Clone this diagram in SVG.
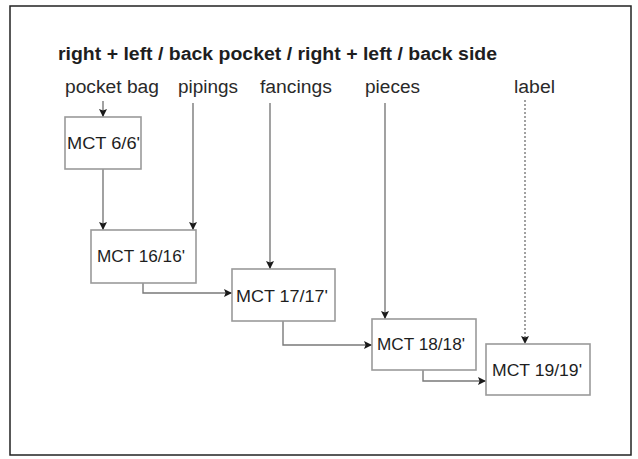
<svg xmlns="http://www.w3.org/2000/svg" width="638" height="459" viewBox="0 0 638 459">
<defs>
<marker id="ah" viewBox="0 0 10 10" refX="10" refY="5" markerWidth="10" markerHeight="8" markerUnits="userSpaceOnUse" orient="auto">
<path d="M0,0 L10,5 L0,10 L2,5 Z" fill="#1a1a1a"/>
</marker>
</defs>
<style>
.frame{fill:#fff;stroke:#222;stroke-width:1.5}
.box{fill:#fff;stroke:#9a9a9a;stroke-width:1.6}
.nt{font-family:"Liberation Sans",Arial,sans-serif;font-size:16px;fill:#1e1e1e}
.lb{font-family:"Liberation Sans",Arial,sans-serif;font-size:18px;fill:#2a2a2a}
.tt{font-family:"Liberation Sans",Arial,sans-serif;font-size:18px;font-weight:bold;fill:#1e1e1e}
.c{fill:none;stroke:#7a7a7a;stroke-width:1.4;marker-end:url(#ah)}
.d{stroke-dasharray:2 2}
</style>
<rect x="0" y="0" width="638" height="459" fill="#fff"/>
<rect class="frame" x="10" y="6" width="621" height="449"/>
<text class="tt" x="58" y="60" textLength="439" lengthAdjust="spacingAndGlyphs">right + left / back pocket / right + left / back side</text>
<g id="labels">
<text class="lb" x="65" y="93" textLength="94" lengthAdjust="spacingAndGlyphs">pocket bag</text>
<text class="lb" x="178" y="93" textLength="60" lengthAdjust="spacingAndGlyphs">pipings</text>
<text class="lb" x="260" y="93" textLength="72" lengthAdjust="spacingAndGlyphs">fancings</text>
<text class="lb" x="365" y="93" textLength="55" lengthAdjust="spacingAndGlyphs">pieces</text>
<text class="lb" x="514" y="93" textLength="41" lengthAdjust="spacingAndGlyphs">label</text>
</g>
<g id="connectors">
<path class="c" d="M103,101 V117"/>
<path class="c" d="M103,169 V230"/>
<path class="c" d="M193,103 V230"/>
<path class="c" d="M143,283 V293 H232"/>
<path class="c" d="M270,103 V269"/>
<path class="c" d="M283,321 V345 H372"/>
<path class="c" d="M385,103 V319"/>
<path class="c" d="M423,370 V381 H486"/>
<path class="c d" d="M525,100 V344"/>
</g>
<g id="mct6">
<rect class="box" x="65" y="117" width="76" height="52"/>
<text class="nt" x="67" y="149" textLength="73" lengthAdjust="spacingAndGlyphs">MCT 6/6'</text>
</g>
<g id="mct16">
<rect class="box" x="91" y="230" width="105" height="53"/>
<text class="nt" x="97" y="262" textLength="88" lengthAdjust="spacingAndGlyphs">MCT 16/16'</text>
</g>
<g id="mct17">
<rect class="box" x="232" y="269" width="103" height="52"/>
<text class="nt" x="236" y="302" textLength="92" lengthAdjust="spacingAndGlyphs">MCT 17/17'</text>
</g>
<g id="mct18">
<rect class="box" x="372" y="319" width="104" height="51"/>
<text class="nt" x="377" y="350" textLength="88" lengthAdjust="spacingAndGlyphs">MCT 18/18'</text>
</g>
<g id="mct19">
<rect class="box" x="486" y="344" width="104" height="51"/>
<text class="nt" x="492" y="376" textLength="90" lengthAdjust="spacingAndGlyphs">MCT 19/19'</text>
</g>
</svg>
